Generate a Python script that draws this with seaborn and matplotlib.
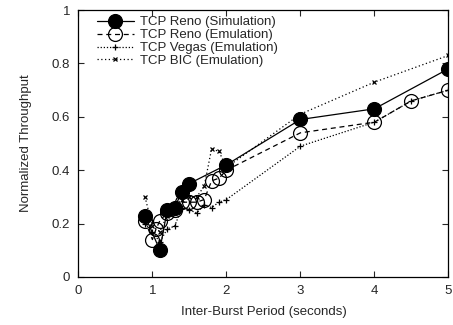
import numpy as np
import pandas as pd
import matplotlib
matplotlib.use("Agg")
import matplotlib.pyplot as plt
import seaborn as sns

# series
reno_sim_x = [0.9, 1.1, 1.2, 1.3, 1.4, 1.5, 2.0, 3.0, 4.0, 5.0]
reno_sim_y = [0.23, 0.10, 0.25, 0.26, 0.32, 0.35, 0.42, 0.59, 0.63, 0.78]

reno_emu_x = [0.9, 1.0, 1.05, 1.1, 1.2, 1.3, 1.4, 1.5, 1.6, 1.7, 1.8, 1.9, 2.0, 3.0, 4.0, 4.5, 5.0]
reno_emu_y = [0.21, 0.14, 0.18, 0.21, 0.24, 0.25, 0.28, 0.28, 0.28, 0.29, 0.36, 0.37, 0.40, 0.54, 0.58, 0.66, 0.70]

vegas_x = [0.9, 1.0, 1.1, 1.2, 1.3, 1.4, 1.5, 1.6, 1.7, 1.8, 1.9, 2.0, 3.0, 4.0, 4.5, 5.0]
vegas_y = [0.20, 0.17, 0.13, 0.18, 0.19, 0.26, 0.25, 0.24, 0.27, 0.26, 0.28, 0.29, 0.49, 0.58, 0.66, 0.70]

bic_x = [0.9, 1.0, 1.1, 1.2, 1.3, 1.4, 1.5, 1.6, 1.7, 1.8, 1.9, 2.0, 3.0, 4.0, 5.0]
bic_y = [0.30, 0.19, 0.17, 0.23, 0.27, 0.29, 0.30, 0.30, 0.34, 0.48, 0.47, 0.41, 0.61, 0.73, 0.83]

series = [
    ("TCP Reno (Simulation)", reno_sim_x, reno_sim_y,
     dict(linestyle="-", marker="o", markersize=10, markerfacecolor="black")),
    ("TCP Reno (Emulation)", reno_emu_x, reno_emu_y,
     dict(linestyle=(0, (4, 3)), marker="o", markersize=10, markerfacecolor="none")),
    ("TCP Vegas (Emulation)", vegas_x, vegas_y,
     dict(linestyle=(0, (1, 1.5)), marker="+", markersize=4)),
    ("TCP BIC (Emulation)", bic_x, bic_y,
     dict(linestyle=(0, (1, 2)), marker="x", markersize=3.5)),
]

sns.set_style("ticks")
plt.rcParams["font.family"] = ["Liberation Sans", "DejaVu Sans"]

fig = plt.figure(figsize=(4.53, 3.25), dpi=100)
ax = fig.add_axes([0.173, 0.148, 0.817, 0.821])

for label, xs, ys, style in series:
    df = pd.DataFrame({"x": xs, "y": ys})
    sns.lineplot(data=df, x="x", y="y", ax=ax, sort=False, estimator=None,
                 color="black", linewidth=0.9, markeredgecolor="black",
                 markeredgewidth=0.9, label=label, **style)

ax.set_xlim(0, 5)
ax.set_ylim(0, 1)
ax.set_xticks([0, 1, 2, 3, 4, 5])
ax.set_yticks([0, 0.2, 0.4, 0.6, 0.8, 1])
ax.set_yticklabels(["0", "0.2", "0.4", "0.6", "0.8", "1"])
ax.set_xlabel("Inter-Burst Period (seconds)", fontsize=9.5, labelpad=6)
ax.set_ylabel("Normalized Throughput", fontsize=9.5, labelpad=14)
ax.tick_params(direction="in", top=True, right=True, labelsize=9.5,
               length=4, width=0.8, pad=6)
for sp in ax.spines.values():
    sp.set_linewidth(0.9)
    sp.set_color("black")

leg = ax.legend(loc="upper left", frameon=False, fontsize=9.5, handlelength=2.8,
                handletextpad=0.5, labelspacing=0.05, borderaxespad=0.3,
                bbox_to_anchor=(0.025, 1.012))

fig.savefig("out.png", dpi=100)
